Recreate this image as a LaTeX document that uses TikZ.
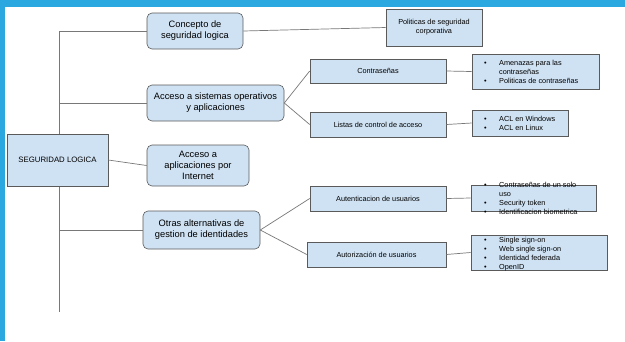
\documentclass[tikz,border=0pt]{standalone}
\usepackage{fontspec}
\setmainfont{Liberation Sans}
\definecolor{frameblue}{RGB}{44,168,224}
\definecolor{boxblue}{RGB}{207,226,243}
\definecolor{bordergray}{RGB}{90,90,90}
\definecolor{linegray}{RGB}{120,120,120}
\newcommand{\bitem}[1]{\makebox[15pt][l]{\textbullet}#1}
\newcommand{\bcont}[1]{\hspace*{15pt}#1}
\tikzset{
  mainbox/.style={draw=bordergray, fill=boxblue, rounded corners=5pt, align=center,
    font=\fontsize{9.3}{11}\selectfont, inner sep=0pt, line width=0.6pt},
  subbox/.style={draw=bordergray, fill=boxblue, align=center,
    font=\fontsize{7.3}{9}\selectfont, inner sep=0pt, line width=0.6pt},
  listtext/.style={align=left, font=\fontsize{7.3}{9.2}\selectfont, inner sep=0pt, anchor=west},
  conn/.style={draw=linegray, line width=0.7pt}
}
\begin{document}
\begin{tikzpicture}[x=1pt,y=-1pt]
\useasboundingbox (0,0) rectangle (625,341);
\fill[white] (0,0) rectangle (625,341);
\fill[frameblue] (0,0) rectangle (625,7);
\fill[frameblue] (0,0) rectangle (5,341);

% trunk
\coordinate (ttop) at (59,31);
\coordinate (tbot) at (59,312);
\coordinate (t2) at (59,103);
\coordinate (t4) at (59,230);
\draw[conn] (ttop) -- (tbot);

% nodes
\node[subbox, minimum width=101pt, minimum height=52pt, font=\fontsize{7.8}{9}\selectfont] (seg) at (57.5,160) {SEGURIDAD LOGICA};

\node[mainbox, minimum width=96pt, minimum height=36pt] (c1) at (195,31) {Concepto de\\seguridad logica};
\node[subbox, minimum width=96pt, minimum height=37pt] (p1) at (434,27.5) {Politicas de seguridad\\corporativa};

\node[mainbox, minimum width=137pt, minimum height=36pt] (c2) at (215.5,103) {Acceso a sistemas operativos\\y aplicaciones};
\node[subbox, minimum width=136pt, minimum height=24pt] (s1) at (378,71) {Contraseñas};
\node[subbox, minimum width=136pt, minimum height=25pt] (s2) at (378,124.5) {Listas de control de acceso};
\node[subbox, minimum width=127pt, minimum height=35pt] (l1) at (535.5,71.5) {};
\node[listtext] (t1) at (484,72) {\bitem{Amenazas para las}\\\bcont{contraseñas}\\\bitem{Politicas de contraseñas}};
\node[subbox, minimum width=96pt, minimum height=26pt] (l2) at (520,123) {};
\node[listtext] (t2n) at (484,123) {\bitem{ACL en Windows}\\\bitem{ACL en Linux}};

\node[mainbox, minimum width=102pt, minimum height=41pt] (c3) at (198,165.5) {Acceso a\\aplicaciones por\\Internet};

\node[mainbox, minimum width=117pt, minimum height=38pt] (c4) at (201.5,230) {Otras alternativas de\\gestion de identidades};
\node[subbox, minimum width=136pt, minimum height=25pt] (s3) at (378,198.5) {Autenticacion de usuarios};
\node[subbox, minimum width=139pt, minimum height=25pt] (s4) at (376.5,254.5) {Autorización de usuarios};
\node[subbox, minimum width=125pt, minimum height=26pt] (l3) at (533.5,198) {};
\node[listtext] (t3) at (484,198.5) {\bitem{Contraseñas de un solo}\\\bcont{uso}\\\bitem{Security token}\\\bitem{Identificacion biometrica}};
\node[subbox, minimum width=136pt, minimum height=35pt] (l4) at (539,252.5) {};
\node[listtext] (t4n) at (484,254) {\bitem{Single sign-on}\\\bitem{Web single sign-on}\\\bitem{Identidad federada}\\\bitem{OpenID}};

% connectors
\draw[conn] (ttop) -- (c1.west);
\draw[conn] (t2) -- (c2.west);
\draw[conn] (t4) -- (c4.west);
\draw[conn] (seg.east) -- (c3.west);
\draw[conn] (c1.east) -- (p1.west);
\draw[conn] (c2.east) -- (s1.west);
\draw[conn] (c2.east) -- (s2.west);
\draw[conn] (s1.east) -- (l1.west);
\draw[conn] (s2.east) -- (l2.west);
\draw[conn] (c4.east) -- (s3.west);
\draw[conn] (c4.east) -- (s4.west);
\draw[conn] (s3.east) -- (l3.west);
\draw[conn] (s4.east) -- (l4.west);
\end{tikzpicture}
\end{document}
